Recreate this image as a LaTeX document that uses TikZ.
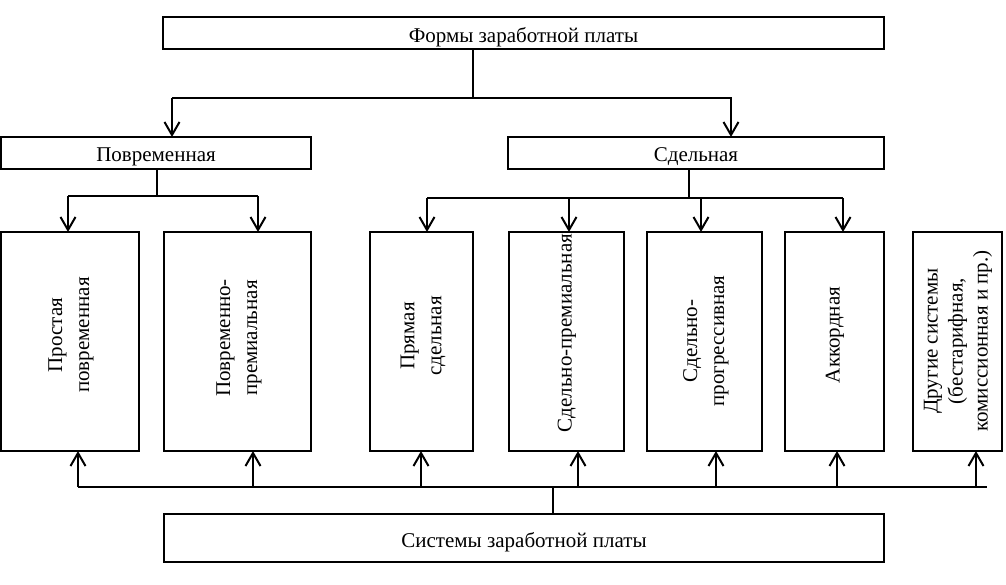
\documentclass[tikz,border=0pt]{standalone}
\usepackage{fontspec}
\setmainfont{Liberation Serif}
\usetikzlibrary{arrows.meta,calc}
\newcommand{\lowered}[2]{\raisebox{-#1}[0pt][0pt]{#2}}
\begin{document}
\begin{tikzpicture}[x=1pt,y=-1pt,
  every path/.style={line width=2pt},
  box/.style={draw,line width=2.2pt,inner sep=0pt,outer sep=0pt,anchor=north west,
    font=\fontsize{21}{27}\selectfont},
  vtext/.style={rotate=90,align=center,inner sep=0pt,font=\fontsize{21}{27}\selectfont},
  arr/.style={-{Straight Barb[length=13pt,width=15pt]}}]
\useasboundingbox (0,0) rectangle (1006,585);
% boxes
\node[box,minimum width=721pt,minimum height=32pt] (top) at (163,17) {\lowered{10pt}{Формы заработной платы}};
\node[box,minimum width=310pt,minimum height=32pt] (povr) at (1,137) {\lowered{9pt}{Повременная}};
\node[box,minimum width=376pt,minimum height=32pt] (sdel) at (508,137) {\lowered{9pt}{Сдельная}};
\node[box,minimum width=720pt,minimum height=48pt] (sys) at (164,514) {\lowered{9pt}{Системы заработной платы}};
\node[box,minimum width=138pt,minimum height=219pt] (b1) at (1,232) {};
\node[box,minimum width=147pt,minimum height=219pt] (b2) at (164,232) {};
\node[box,minimum width=103pt,minimum height=219pt] (b3) at (370,232) {};
\node[box,minimum width=115pt,minimum height=219pt] (b4) at (509,232) {};
\node[box,minimum width=115pt,minimum height=219pt] (b5) at (647,232) {};
\node[box,minimum width=99pt,minimum height=219pt] (b6) at (785,232) {};
\node[box,minimum width=89pt,minimum height=219pt] (b7) at (913,232) {};
% vertical texts
\node[vtext] (t1) at (71,335) {Простая\\повременная};
\node[vtext] (t2) at (239,338) {Повременно-\\премиальная};
\node[vtext] (t3) at (423,336) {Прямая\\сдельная};
\node[vtext] (t4) at (567,333) {Сдельно-премиальная};
\node[vtext] (t5) at (706,341) {Сдельно-\\прогрессивная};
\node[vtext] (t6) at (835,335) {Аккордная};
\node[vtext,font=\fontsize{21}{25}\selectfont] (t7) at (958,341) {Другие системы\\(бестарифная,\\комиссионная и пр.)};
% top level connectors
\coordinate (tj) at (473,98);
\coordinate (tl) at (172,98);
\coordinate (tr) at (731,98);
\draw (top.south -| tj) -- (tj);
\draw (tl) -- (732,98);
\draw[arr] (tl) -- (tl |- povr.north);
\draw[arr] (tr) -- (tr |- sdel.north);
% Povremennaya branch
\coordinate (pj) at (157,196);
\coordinate (p1) at (68,196);
\coordinate (p2) at (258,196);
\draw (povr.south -| pj) -- (pj);
\draw (p1) -- (p2);
\draw[arr] (p1) -- (p1 |- b1.north);
\draw[arr] (p2) -- (p2 |- b2.north);
% Sdelnaya branch
\coordinate (sj) at (689,198);
\coordinate (s3) at (427,198);
\coordinate (s4) at (569,198);
\coordinate (s5) at (701,198);
\coordinate (s6) at (843,198);
\draw (sdel.south -| sj) -- (sj);
\draw (s3) -- (s6);
\draw[arr] (s3) -- (s3 |- b3.north);
\draw[arr] (s4) -- (s4 |- b4.north);
\draw[arr] (s5) -- (s5 |- b5.north);
\draw[arr] (s6) -- (s6 |- b6.north);
% Systems bus
\coordinate (yj) at (553,487);
\coordinate (u1) at (78,487);
\coordinate (u2) at (253,487);
\coordinate (u3) at (421,487);
\coordinate (u4) at (578,487);
\coordinate (u5) at (716,487);
\coordinate (u6) at (837,487);
\coordinate (u7) at (976,487);
\coordinate (ue) at (987,487);
\draw (sys.north -| yj) -- (yj);
\draw (u1) -- (ue);
\draw[arr] (u1) -- (u1 |- b1.south);
\draw[arr] (u2) -- (u2 |- b2.south);
\draw[arr] (u3) -- (u3 |- b3.south);
\draw[arr] (u4) -- (u4 |- b4.south);
\draw[arr] (u5) -- (u5 |- b5.south);
\draw[arr] (u6) -- (u6 |- b6.south);
\draw[arr] (u7) -- (u7 |- b7.south);
\end{tikzpicture}
\end{document}
